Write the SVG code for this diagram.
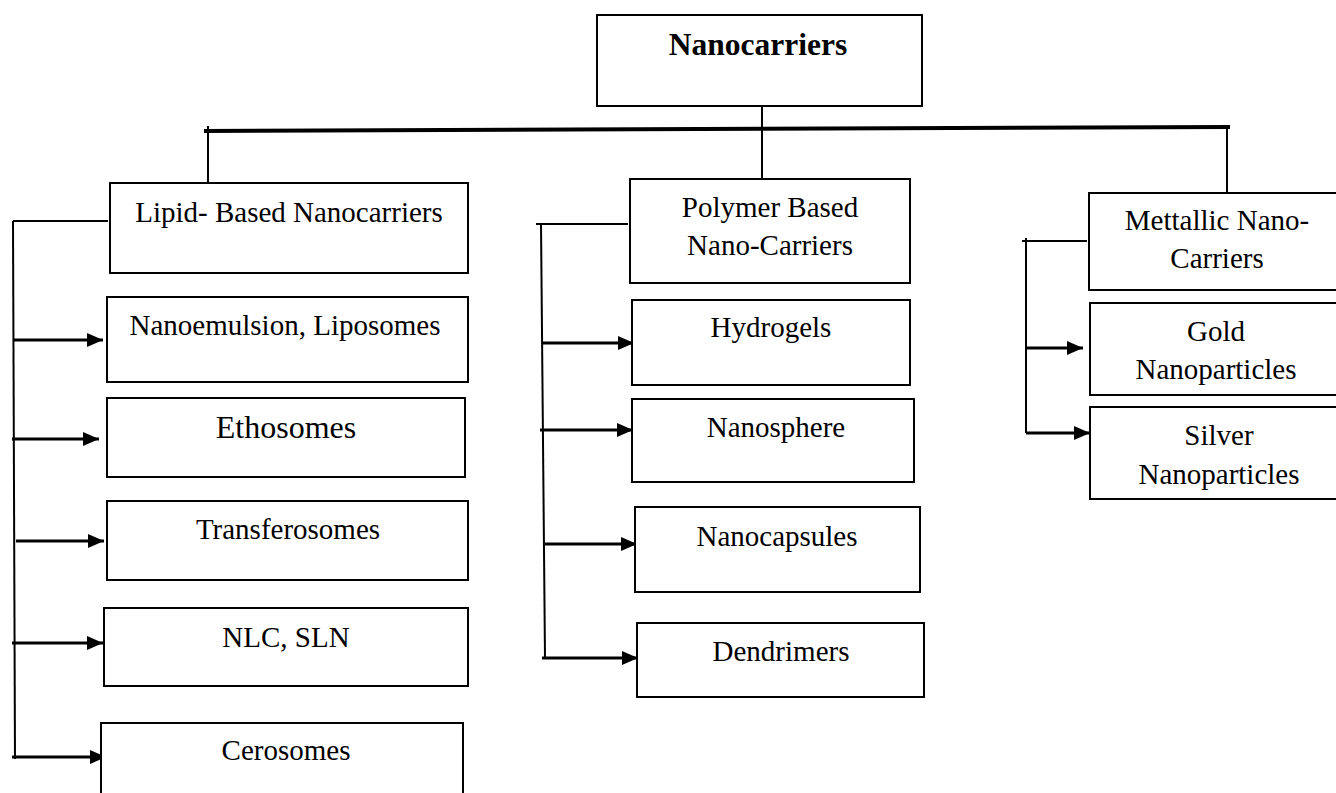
<svg xmlns="http://www.w3.org/2000/svg" width="1336" height="793" viewBox="0 0 1336 793">
<style>
.box{fill:#fff;stroke:#000;stroke-width:2}
.t{font-family:"Liberation Serif","Times New Roman",serif;font-size:29px;fill:#000;text-anchor:middle}
.tb{font-weight:bold;font-size:31.5px}
.ln{stroke:#000;stroke-width:2;fill:none}
.ar{stroke:#000;stroke-width:3;fill:none;marker-end:url(#ah)}
</style>
<defs>
<marker id="ah" markerUnits="userSpaceOnUse" markerWidth="16" markerHeight="14" refX="16" refY="7" orient="auto">
<path d="M0,0 L16,7 L0,14 z" fill="#000"/>
</marker>
</defs>
<rect width="1336" height="793" fill="#fff"/>
<g id="connectors">
<line x1="204" y1="131" x2="1230" y2="127" stroke="#000" stroke-width="4"/>
<line class="ln" x1="762" y1="106" x2="762" y2="179"/>
<line class="ln" x1="208" y1="126" x2="208" y2="183"/>
<line class="ln" x1="1227" y1="127" x2="1227" y2="193"/>
<!-- lipid -->
<line class="ln" x1="13" y1="221" x2="108" y2="221"/>
<line class="ln" x1="13" y1="221" x2="15" y2="759"/>
<line class="ar" x1="13" y1="340" x2="103" y2="340"/>
<line class="ar" x1="12" y1="439" x2="99" y2="439"/>
<line class="ar" x1="16" y1="541" x2="104" y2="541"/>
<line class="ar" x1="12" y1="643" x2="103" y2="643"/>
<line class="ar" x1="12" y1="757" x2="106" y2="757"/>
<!-- polymer -->
<line class="ln" x1="536" y1="224" x2="628" y2="224"/>
<line class="ln" x1="541" y1="224" x2="545" y2="658"/>
<line class="ar" x1="542" y1="343" x2="634" y2="343"/>
<line class="ar" x1="540" y1="430" x2="633" y2="430"/>
<line class="ar" x1="545" y1="544" x2="637" y2="544"/>
<line class="ar" x1="542" y1="658" x2="638" y2="658"/>
<!-- metallic -->
<line class="ln" x1="1022" y1="241" x2="1087" y2="241"/>
<line class="ln" x1="1026" y1="238" x2="1026" y2="433"/>
<line class="ar" x1="1026" y1="348" x2="1083" y2="348"/>
<line class="ar" x1="1026" y1="433" x2="1090" y2="433"/>
</g>
<g id="nanocarriers"><rect class="box" x="597" y="15" width="325" height="91"/><text class="t tb" x="758" y="55">Nanocarriers</text></g>
<g id="lipid"><rect class="box" x="110" y="183" width="358" height="90"/><text class="t" x="289" y="222">Lipid- Based Nanocarriers</text></g>
<g id="nanoemulsion"><rect class="box" x="107" y="297" width="361" height="85"/><text class="t" x="285" y="335">Nanoemulsion, Liposomes</text></g>
<g id="ethosomes"><rect class="box" x="107" y="398" width="358" height="79"/><text class="t" x="286" y="438" style="font-size:32px">Ethosomes</text></g>
<g id="transferosomes"><rect class="box" x="107" y="501" width="361" height="79"/><text class="t" x="288" y="539">Transferosomes</text></g>
<g id="nlc"><rect class="box" x="104" y="608" width="364" height="78"/><text class="t" x="286" y="647">NLC, SLN</text></g>
<g id="cerosomes"><rect class="box" x="101" y="723" width="362" height="80"/><text class="t" x="286" y="760">Cerosomes</text></g>
<g id="polymer"><rect class="box" x="630" y="179" width="280" height="104"/><text class="t" x="770" y="217">Polymer Based</text><text class="t" x="770" y="255">Nano-Carriers</text></g>
<g id="hydrogels"><rect class="box" x="632" y="300" width="278" height="85"/><text class="t" x="771" y="337">Hydrogels</text></g>
<g id="nanosphere"><rect class="box" x="632" y="399" width="282" height="83"/><text class="t" x="776" y="437">Nanosphere</text></g>
<g id="nanocapsules"><rect class="box" x="635" y="507" width="285" height="85"/><text class="t" x="777" y="546">Nanocapsules</text></g>
<g id="dendrimers"><rect class="box" x="637" y="623" width="287" height="74"/><text class="t" x="781" y="661">Dendrimers</text></g>
<g id="metallic"><rect class="box" x="1089" y="193" width="260" height="97"/><text class="t" x="1217" y="230">Mettallic Nano-</text><text class="t" x="1217" y="268">Carriers</text></g>
<g id="gold"><rect class="box" x="1090" y="303" width="260" height="92"/><text class="t" x="1216" y="341">Gold</text><text class="t" x="1216" y="379">Nanoparticles</text></g>
<g id="silver"><rect class="box" x="1090" y="407" width="260" height="92"/><text class="t" x="1219" y="445">Silver</text><text class="t" x="1219" y="484">Nanoparticles</text></g>
</svg>
